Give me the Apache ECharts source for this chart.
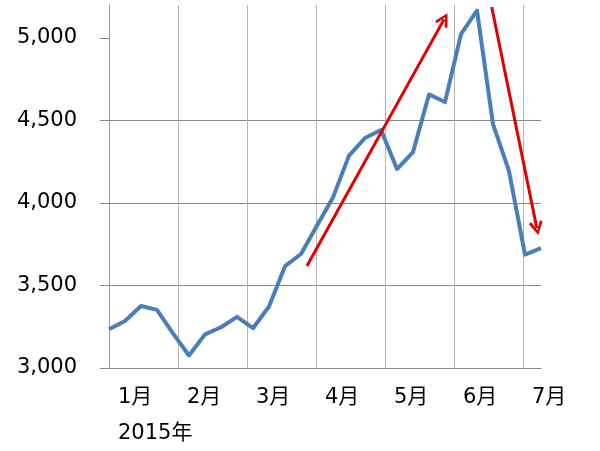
<!DOCTYPE html>
<html>
<head>
<meta charset="utf-8">
<script src="https://cdn.jsdelivr.net/npm/echarts@6/dist/echarts.min.js"></script>
<style>
html,body{margin:0;padding:0;background:#fff;}
#chart{width:600px;height:451px;}
</style>
</head>
<body>
<div id="chart"></div>
<script>
// ---- data ----
const weekDates = ['2014/12/31','2015/1/9','2015/1/16','2015/1/23','2015/1/30','2015/2/6','2015/2/13','2015/2/17',
  '2015/2/27','2015/3/6','2015/3/13','2015/3/20','2015/3/27','2015/4/3','2015/4/10','2015/4/17','2015/4/24',
  '2015/4/30','2015/5/8','2015/5/15','2015/5/22','2015/5/29','2015/6/5','2015/6/12','2015/6/19','2015/6/26',
  '2015/7/3','2015/7/7'];
const closeValues = [3235,3285,3376,3352,3210,3076,3204,3247,3310,3241,3373,3617,3691,3864,4034,4287,4394,
  4442,4206,4309,4658,4612,5023,5166,4478,4193,3687,3727];
const monthLabels = ['1月','2月','3月','4月','5月','6月','7月'];
const yearLabel = '2015年';
const yTicks = [3000,3500,4000,4500,5000];
const yMin = 3000, yMax = 5200, yStep = 500;
const weeksPerGridline = 4.3125;
// annotation arrows: [startWeek, startValue, endWeek, endValue]
const arrowUp = [12.37, 3618, 20.94, 5113];
const arrowDown = [23.92, 5188, 26.74, 3848];

const FONT = "'DejaVu Sans', 'Noto Sans CJK JP', sans-serif";
const chevron = 'path://M7,0 L14,12 L11.5,13.5 L7,4.5 L2.5,13.5 L0,12 Z';

const chart = echarts.init(document.getElementById('chart'), null, {renderer:'canvas'});
const seriesData = closeValues.map((v,i)=>[i,v]);
function arrowPair(a){ return [{coord:[a[0],a[1]]},{coord:[a[2],a[3]]}]; }

chart.setOption({
  animation:false,
  backgroundColor:'#fff',
  grid:[
    {left:109, right:59, top:5, bottom:83, containLabel:false, outerBoundsMode:'none'},
    {left:118, right:68, top:5, bottom:83, containLabel:false, outerBoundsMode:'none'}
  ],
  xAxis:[
    {type:'value', gridIndex:0, min:0, max:closeValues.length-1, interval:weeksPerGridline,
     axisLine:{show:true, onZero:false, lineStyle:{color:'#888', width:1}},
     axisTick:{show:false}, axisLabel:{show:false},
     splitLine:{show:true, showMinLine:false, showMaxLine:false, lineStyle:{color:'#b4b4b4', width:1}}},
    {type:'category', gridIndex:1, data:monthLabels, boundaryGap:false,
     axisLine:{show:false}, axisTick:{show:false}, splitLine:{show:false},
     axisLabel:{show:true, interval:0, margin:12, align:'left', fontSize:21, lineHeight:36,
       color:'#000', fontFamily:FONT,
       formatter:function(v,i){ return i===0 ? v + '\n' + yearLabel : v; }}}
  ],
  yAxis:[
    {type:'value', gridIndex:0, min:yMin, max:yMax, interval:yStep,
     axisLine:{show:true, lineStyle:{color:'#999', width:1}},
     axisTick:{show:true, length:9, customValues:yTicks, lineStyle:{color:'#888'}},
     axisLabel:{show:true, customValues:yTicks, margin:32, fontSize:21, color:'#000', fontFamily:FONT,
       formatter:function(v){ return Number(v).toLocaleString('en-US'); }},
     splitLine:{show:true, showMaxLine:false, lineStyle:{color:'#888', width:1}}},
    {type:'value', gridIndex:1, min:0, max:1, show:false}
  ],
  series:[
    {type:'line', xAxisIndex:0, yAxisIndex:0, data:seriesData, showSymbol:false, symbol:'none',
     lineStyle:{color:'#4a7ebb', width:4, join:'round'}, itemStyle:{color:'#4a7ebb'},
     silent:true, z:2},
    {type:'line', xAxisIndex:0, yAxisIndex:0, data:[], z:3,
     markLine:{silent:true, symbol:['none', chevron], symbolSize:14,
       label:{show:false}, emphasis:{disabled:true},
       lineStyle:{color:'#e00000', width:3, type:'solid'},
       itemStyle:{color:'#e00000'},
       data:[arrowPair(arrowUp), arrowPair(arrowDown)]}},
    {type:'line', xAxisIndex:1, yAxisIndex:1, data:[]}
  ]
});
</script>
</body>
</html>
